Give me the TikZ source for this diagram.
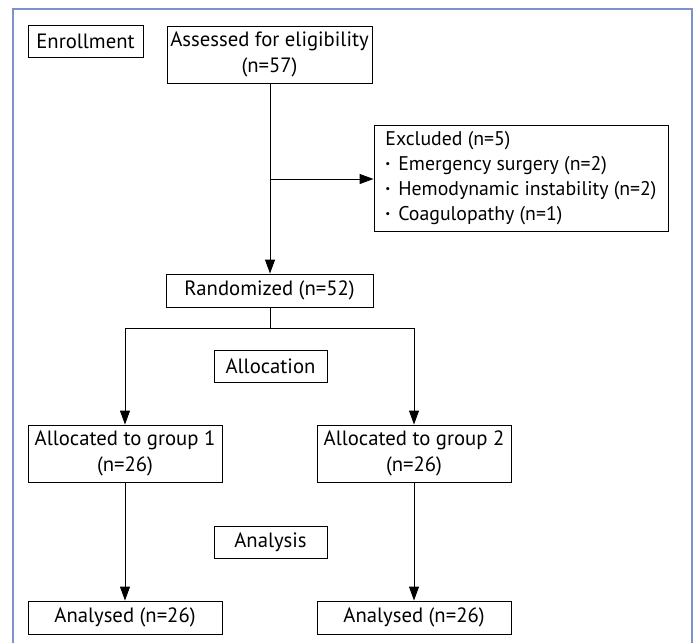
\documentclass[tikz,border=0pt]{standalone}
\usepackage{fontspec}
\setmainfont{PT Sans}
\usetikzlibrary{arrows.meta}
\definecolor{framec}{RGB}{125,145,205}
\newcommand{\smbul}{\raisebox{0.15em}{\fontsize{11}{11}\selectfont\textbullet}\hspace{0.4em}}
\tikzset{
  box/.style={draw, line width=0.9pt, inner sep=0pt, align=center,
    font=\fontsize{20.7}{25.5}\selectfont},
  link/.style={line width=0.9pt},
  arr/.style={link, -{Triangle[width=10pt,length=14pt]}}
}
\begin{document}
\begin{tikzpicture}[x=1pt,y=-1pt]
      \useasboundingbox (0,0) rectangle (696,643);
      \draw[framec, line width=2pt] (13,643) -- (13,9) -- (692,9) -- (692,643);
      \node[box, minimum width=115pt, minimum height=32pt] (enrol) at (85.5,41) {Enrollment};
      \node[box, minimum width=205pt, minimum height=57pt] (assess) at (269.5,54.5)
        {Assessed for eligibility\\(n=57)};
      \node[box, minimum width=294pt, minimum height=106pt, align=left,
        font=\fontsize{19.8}{25}\selectfont]
        (excl) at (521,178) {Excluded (n=5)\\
        \smbul Emergency surgery (n=2)\\
        \smbul Hemodynamic instability (n=2)\\
        \smbul Coagulopathy (n=1)};
      \node[box, minimum width=207pt, minimum height=33pt] (rand) at (269.5,290.5) {Randomized (n=52)};
      \node[box, minimum width=113pt, minimum height=32pt] (alloc) at (270.5,366) {Allocation};
      \node[box, minimum width=194pt, minimum height=57pt] (grpone) at (125,453.5)
        {Allocated to group 1\\(n=26)};
      \node[box, minimum width=194pt, minimum height=57pt] (grptwo) at (414,453.5)
        {Allocated to group 2\\(n=26)};
      \node[box, minimum width=113pt, minimum height=32pt] (anal) at (270.5,542) {Analysis};
      \node[box, minimum width=194pt, minimum height=33pt] (outone) at (125,617.5) {Analysed (n=26)};
      \node[box, minimum width=194pt, minimum height=33pt] (outtwo) at (414,617.5) {Analysed (n=26)};
      \coordinate (excjoin) at (270,179);
      \coordinate (split) at (270,328);
      \draw[arr] (assess.south -| excjoin) -- (rand.north -| excjoin);
      \draw[arr] (excjoin) -- (excl.west |- excjoin);
      \draw[link] (rand.south -| split) -- (split);
      \draw[arr] (split) -| (grpone.north);
      \draw[arr] (split) -| (grptwo.north);
      \draw[arr] (grpone) -- (outone);
      \draw[arr] (grptwo) -- (outtwo);
    \end{tikzpicture}
\end{document}
